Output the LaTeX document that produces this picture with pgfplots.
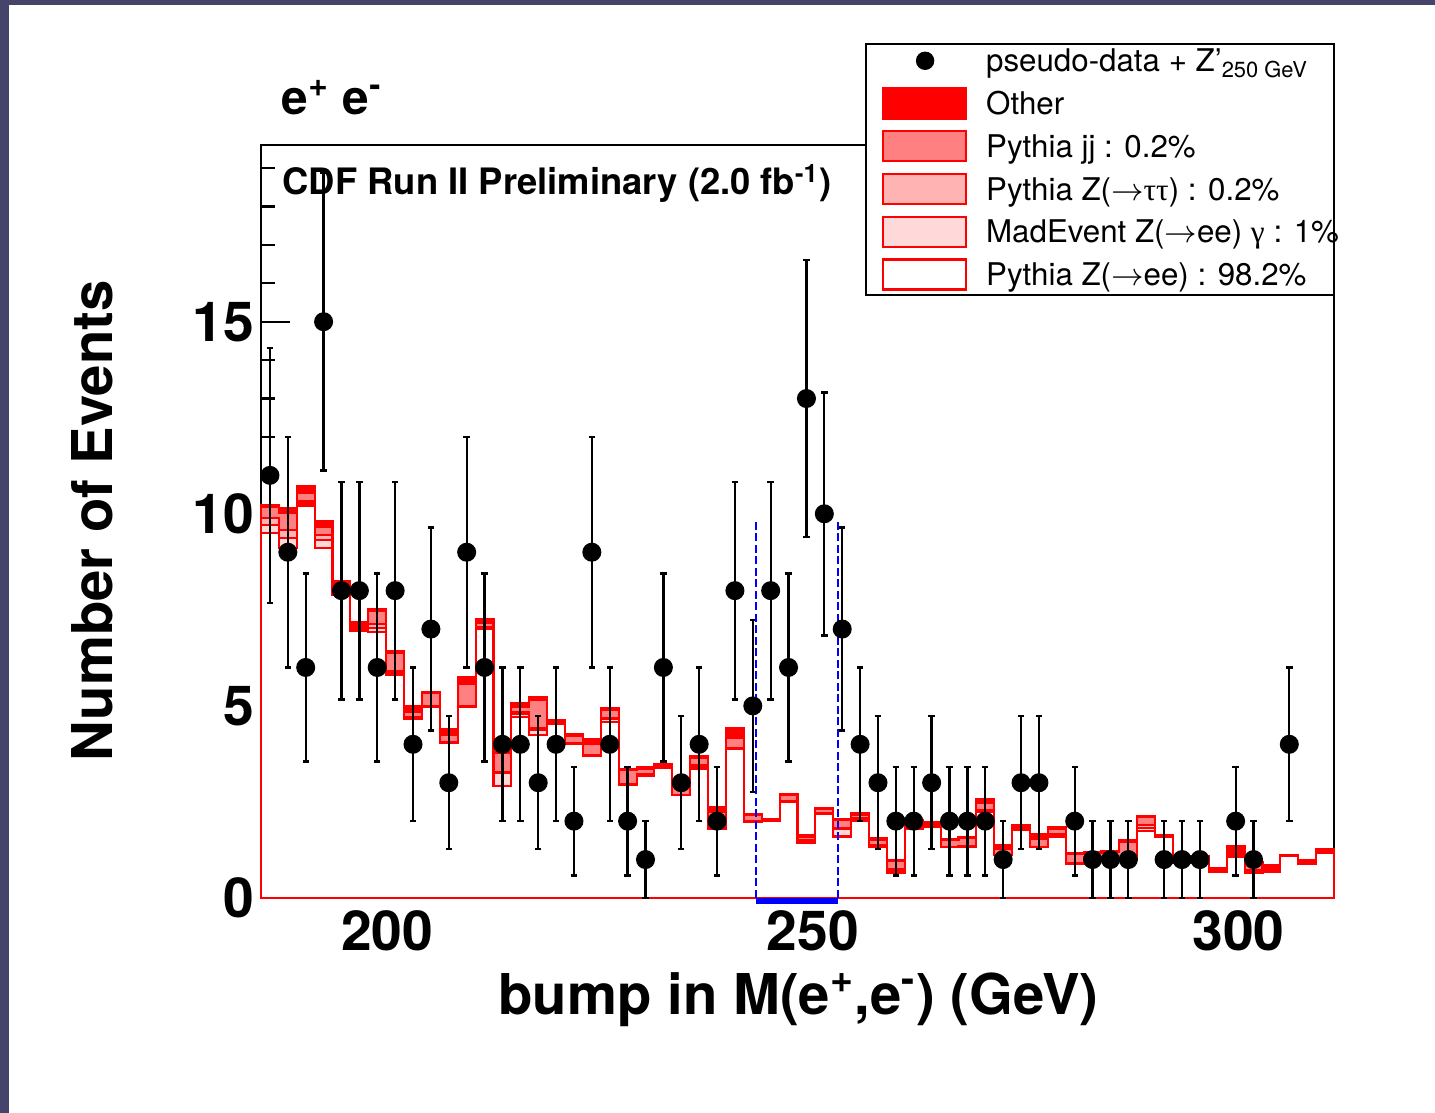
\documentclass[border=0pt]{standalone}
\usepackage{pgfplots}
\pgfplotsset{compat=1.18}
\usepackage{pgfplotstable}
\usepackage{fontspec}
\setmainfont{TeX Gyre Heros}
\newfontfamily\symb{Liberation Serif}
\definecolor{bgdark}{HTML}{45446A}
\definecolor{cjj}{HTML}{FF8080}
\definecolor{ctt}{HTML}{FFB3B3}
\definecolor{cme}{HTML}{FFD9D9}

% stacked histogram: cumulative levels (c1=Z->ee, c2=+MadEvent, c3=+Z->tautau, c4=+jj, c5=+Other)
\pgfplotstableread{
xl c1 c2 c3 c4 c5
185.2 9.5 9.7 9.9 10.18 10.23
187.3 9.1 9.37 9.58 10.01 10.16
189.4 10.2 10.25 10.32 10.54 10.71
191.5 9.1 9.32 9.45 9.67 9.8
193.6 7.9 7.92 7.95 7.98 8.24
195.7 6.96 6.99 7.02 7.07 7.19
197.8 6.93 7.02 7.12 7.46 7.52
199.9 5.8 5.85 5.9 6.37 6.43
202.0 4.65 4.68 4.7 4.85 5.0
204.1 4.97 4.99 5.0 5.33 5.37
206.2 4.03 4.05 4.07 4.24 4.39
208.3 4.98 4.99 5.0 5.57 5.76
210.4 6.99 7.02 7.05 7.17 7.27
212.5 2.92 3.25 3.29 3.77 3.81
214.6 4.72 4.78 4.85 4.98 5.08
216.7 4.25 4.37 4.42 5.16 5.24
218.8 4.53 4.535 4.54 4.55 4.64
220.9 4.0 4.02 4.04 4.22 4.27
223.0 3.7 3.71 3.72 4.01 4.13
225.1 4.57 4.65 4.68 4.9 4.94
227.2 2.94 2.95 2.96 3.32 3.36
229.3 3.18 3.2 3.22 3.36 3.42
231.4 3.38 3.39 3.40 3.45 3.49
233.5 2.67 2.675 2.68 2.9 2.95
235.6 3.35 3.4 3.45 3.65 3.7
237.7 1.79 1.8 1.81 2.25 2.36
239.8 3.87 3.88 3.89 4.16 4.42
241.9 1.99 1.995 2.0 2.15 2.19
244.0 2.0 2.005 2.01 2.03 2.05
246.1 2.51 2.515 2.52 2.67 2.71
248.2 1.42 1.46 1.5 1.6 1.64
250.3 2.2 2.205 2.21 2.31 2.35
252.4 1.6 1.79 1.81 2.02 2.05
254.5 2.01 2.04 2.08 2.16 2.2
256.6 1.34 1.36 1.38 1.5 1.55
258.7 0.65 0.7 0.75 0.97 1.0
260.8 1.79 1.8 1.81 1.82 2.03
262.9 1.86 1.87 1.88 1.94 1.97
265.0 1.32 1.325 1.33 1.5 1.54
267.1 1.34 1.35 1.36 1.55 1.58
269.2 2.25 2.26 2.28 2.48 2.57
271.3 1.12 1.125 1.13 1.27 1.38
273.4 1.77 1.78 1.8 1.86 1.9
275.5 1.32 1.325 1.33 1.53 1.67
277.6 1.58 1.62 1.66 1.8 1.84
279.7 0.89 0.9 0.91 1.14 1.18
281.8 1.03 1.04 1.06 1.17 1.2
283.9 1.0 1.02 1.05 1.2 1.23
286.0 0.99 0.995 1.0 1.47 1.51
288.1 1.75 1.82 1.9 2.1 2.14
290.2 1.6 1.605 1.61 1.62 1.64
292.3 0.9 0.92 0.95 1.04 1.08
294.4 0.9 0.92 0.95 1.04 1.08
296.5 0.68 0.69 0.7 0.74 0.77
298.6 1.08 1.085 1.09 1.1 1.35
300.7 0.66 0.69 0.72 0.9 0.94
302.8 0.68 0.69 0.7 0.72 0.86
304.9 1.1 1.105 1.11 1.115 1.12
307.0 0.89 0.895 0.9 0.97 0.99
309.1 1.18 1.19 1.2 1.25 1.28
311.2 1.18 1.19 1.2 1.25 1.28
}\histo

\pgfplotstableread{
x y e
186.25 11 3.317
188.35 9 3
190.45 6 2.449
192.55 15 3.873
194.65 8 2.828
196.75 8 2.828
198.85 6 2.449
200.95 8 2.828
203.05 4 2
205.15 7 2.646
207.25 3 1.732
209.35 9 3
211.45 6 2.449
213.55 4 2
215.65 4 2
217.75 3 1.732
219.85 4 2
221.95 2 1.414
224.05 9 3
226.15 4 2
228.25 2 1.414
230.35 1 1
232.45 6 2.449
234.55 3 1.732
236.65 4 2
238.75 2 1.414
240.85 8 2.828
242.95 5 2.236
245.05 8 2.828
247.15 6 2.449
249.25 13 3.606
251.35 10 3.162
253.45 7 2.646
255.55 4 2
257.65 3 1.732
259.75 2 1.414
261.85 2 1.414
263.95 3 1.732
266.05 2 1.414
268.15 2 1.414
270.25 2 1.414
272.35 1 1
274.45 3 1.732
276.55 3 1.732
280.75 2 1.414
282.85 1 1
284.95 1 1
287.05 1 1
291.25 1 1
293.35 1 1
295.45 1 1
299.65 2 1.414
301.75 1 1
305.95 4 2
}\pdata

\begin{document}
\begin{tikzpicture}[x=1mm,y=1mm]
\useasboundingbox (0,0) rectangle (143.5,111.3);
\fill[bgdark] (0,0) rectangle (0.9,111.3);
\fill[bgdark] (0,110.8) rectangle (143.5,111.3);
\begin{axis}[
  at={(26.1mm,21.5mm)}, anchor=south west,
  scale only axis, width=107.3mm, height=75.3mm,
  xmin=185.2, xmax=311.2, ymin=0, ymax=19.6,
  clip=false,
  axis line style={line width=0.6pt},
  tick align=inside, tick pos=left,
  xtick={200,250,300}, xticklabels={200,250,300},
  minor xtick={190,210,220,230,240,260,270,280,290,310},
  ytick={0,5,10,15}, yticklabels={0,5,10,15},
  minor ytick={1,2,3,4,6,7,8,9,11,12,13,14,16,17,18,19},
  major tick length=2.9mm, minor tick length=1.4mm,
  tick style={black, line width=0.6pt},
  xticklabel style={font=\fontsize{15.7}{18}\bfseries\selectfont, anchor=base, yshift=-5.3mm, inner sep=0pt},
  yticklabel style={font=\fontsize{15.7}{18}\bfseries\selectfont, anchor=east, inner sep=0pt, xshift=-0.6mm},
  legend cell align=left,
  legend style={at={(0.5788,1.1315)}, anchor=north west, draw=none, fill=none,
    inner sep=0pt, outer sep=0pt, row sep=0.65mm, column sep=1.9mm,
    font=\fontsize{8.9}{10.5}\selectfont,
    nodes={inner sep=0pt, text height=2.6mm, text depth=0.9mm}},
]
\addlegendimage{legend image code/.code={\fill[black] (4.2mm,0.27mm) circle[radius=0.85mm];}}
\addlegendentry{pseudo-data + Z’\textsubscript{250 GeV}}
\addlegendimage{legend image code/.code={\draw[red,fill=red,line width=0.6pt] (0mm,-1.23mm) rectangle (8.3mm,1.77mm);}}
\addlegendentry{Other}
\addlegendimage{legend image code/.code={\draw[red,fill=cjj,line width=0.6pt] (0mm,-1.23mm) rectangle (8.3mm,1.77mm);}}
\addlegendentry{Pythia jj : 0.2\%}
\addlegendimage{legend image code/.code={\draw[red,fill=ctt,line width=0.6pt] (0mm,-1.23mm) rectangle (8.3mm,1.77mm);}}
\addlegendentry{Pythia Z($\rightarrow${\symb ττ}) : 0.2\%}
\addlegendimage{legend image code/.code={\draw[red,fill=cme,line width=0.6pt] (0mm,-1.23mm) rectangle (8.3mm,1.77mm);}}
\addlegendentry{MadEvent Z($\rightarrow$ee) {\symb γ} : 1\%}
\addlegendimage{legend image code/.code={\draw[red,fill=white,line width=0.6pt] (0mm,-1.23mm) rectangle (8.3mm,1.77mm);}}
\addlegendentry{Pythia Z($\rightarrow$ee) : 98.2\%}

\addplot[const plot, draw=red, line width=0.6pt, fill=red, forget plot] table[x=xl,y=c5]{\histo} \closedcycle;
\addplot[const plot, draw=red, line width=0.6pt, fill=cjj, forget plot] table[x=xl,y=c4]{\histo} \closedcycle;
\addplot[const plot, draw=red, line width=0.6pt, fill=ctt, forget plot] table[x=xl,y=c3]{\histo} \closedcycle;
\addplot[const plot, draw=red, line width=0.6pt, fill=cme, forget plot] table[x=xl,y=c2]{\histo} \closedcycle;
\addplot[const plot, draw=red, line width=0.6pt, fill=white, forget plot] table[x=xl,y=c1]{\histo} \closedcycle;

\addplot[only marks, mark=*, mark size=0.88mm, black, forget plot,
  error bars/.cd, y dir=both, y explicit,
  error bar style={line width=0.65pt, black},
  error mark=-,
  error mark options={rotate=90, line width=0.7pt, mark size=0.32mm, black}]
  table[x=x, y=y, y error=e]{\pdata};

\addplot[blue, line width=0.55pt, dash pattern=on 0.8mm off 0.35mm, forget plot] coordinates {(243.3,0) (243.3,9.8)};
\addplot[blue, line width=0.55pt, dash pattern=on 0.8mm off 0.35mm, forget plot] coordinates {(253.0,0) (253.0,9.8)};
\addplot[blue, line width=0.6mm, forget plot] coordinates {(243.3,-0.08) (253.0,-0.08)};

\draw[black, line width=0.6pt, fill=white] (rel axis cs:0.5638,1.1341) rectangle (rel axis cs:1.0,0.8008);
\end{axis}
\node[font=\fontsize{13.6}{16}\bfseries\selectfont, anchor=base west, inner sep=0pt] at (28.1,99.8) {e\textsuperscript{+} e\textsuperscript{-}};
\node[font=\fontsize{10.35}{13}\bfseries\selectfont, anchor=base west, inner sep=0pt] at (28.2,91.8) {CDF Run II Preliminary (2.0 fb\textsuperscript{-1})};
\node[font=\fontsize{16}{19}\bfseries\selectfont, anchor=base, inner sep=0pt] at (79.85,9.8) {bump in M(e\textsuperscript{+},e\textsuperscript{-}) (GeV)};
\node[font=\fontsize{16}{19}\bfseries\selectfont, anchor=base, rotate=90, inner sep=0pt] at (11.3,59.2) {Number of Events};
\end{tikzpicture}
\end{document}
